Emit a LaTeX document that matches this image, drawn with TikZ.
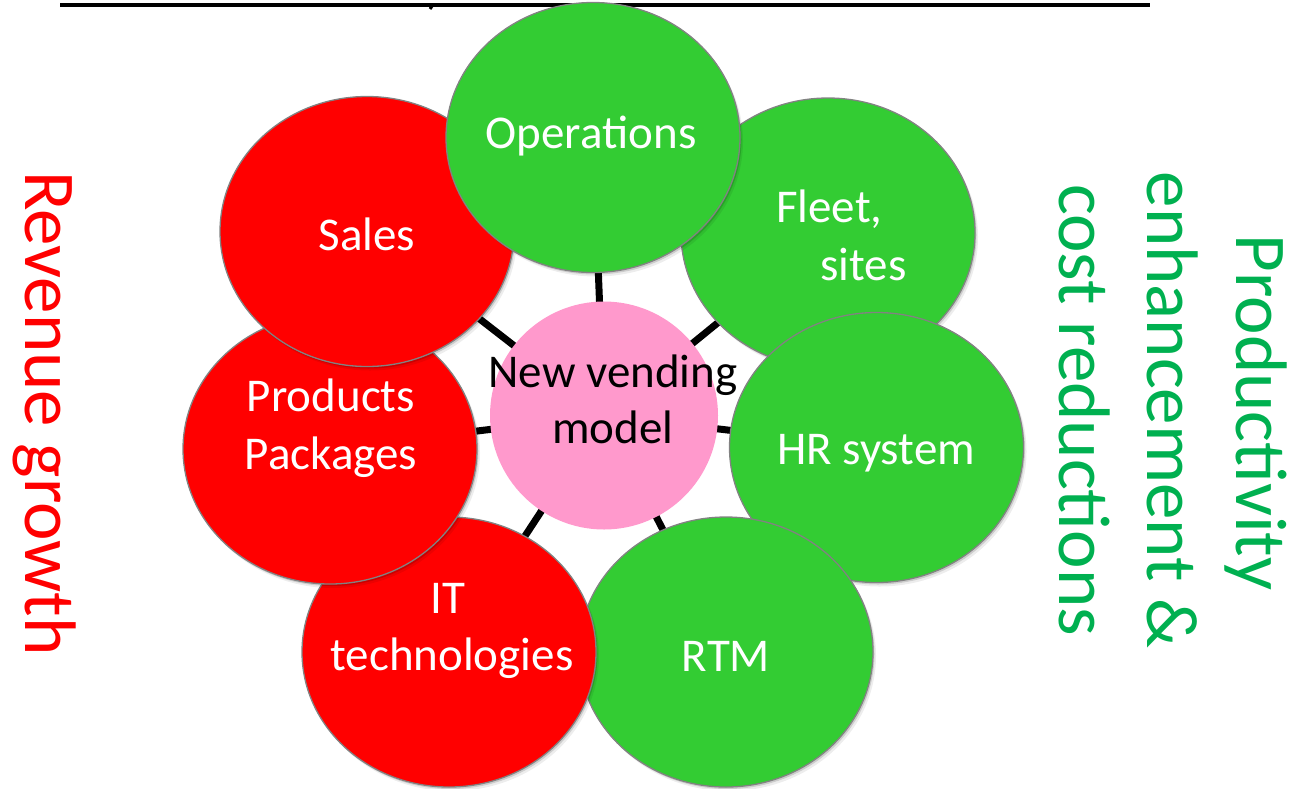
\documentclass[tikz,border=0pt]{standalone}
\usepackage{fontspec}
\setmainfont{Carlito}
\usetikzlibrary{shapes.geometric,shadows}
\definecolor{leafgreen}{RGB}{51,204,51}
\definecolor{leafred}{RGB}{255,0,0}
\definecolor{hubpink}{RGB}{255,153,204}
\definecolor{rimgray}{RGB}{130,130,130}
\definecolor{notegreen}{RGB}{0,176,80}
\pgfdeclarelayer{back}
\pgfsetlayers{back,main}

\begin{document}
\begin{tikzpicture}[x=1pt,y=-1pt,
  petal/.style={ellipse, draw=rimgray, line width=1.3pt,
    minimum width=294pt, minimum height=270pt, inner sep=0pt,
    drop shadow={shadow xshift=1.5pt, shadow yshift=-2pt, opacity=0.14, fill=black},
    drop shadow={shadow xshift=3pt, shadow yshift=-4pt, opacity=0.07, fill=black}},
  hub/.style={circle, fill=hubpink, minimum size=228pt, inner sep=0pt},
  spoke/.style={line width=7pt, black},
  lbl/.style={text=white, font=\fontsize{47}{57}\selectfont, anchor=base, inner sep=0pt},
  side/.style={font=\fontsize{73}{89}\selectfont, anchor=base, inner sep=0pt, rotate=-90}]

\useasboundingbox (0,0) rectangle (1289,788);

% heading rule and the tail of its clipped title letter
\draw[line width=4pt] (60,5) -- (1150,5);
\draw[line width=3pt] (433.5,4) -- (430,9);

% outer circles, bottom to top
\node[petal, fill=leafgreen] (fleet) at (828,233) {};
\node[petal, fill=leafgreen] (hr)    at (876.5,447.5) {};
\node[petal, fill=leafgreen] (rtm)   at (726,652) {};
\node[petal, fill=leafred]   (it)    at (449,652) {};
\node[petal, fill=leafred]   (prod)  at (330,449) {};
\node[petal, fill=leafred]   (sales) at (367,231.5) {};
\node[petal, fill=leafgreen] (ops)   at (593,137.5) {};

% centre circle
\node[hub] (hub) at (604,415.5) {};

% spokes behind everything
\begin{pgfonlayer}{back}
  \foreach \t in {ops,fleet,hr,rtm,it,prod,sales}
    \draw[spoke] (hub.center) -- (\t.center);
\end{pgfonlayer}

% circle labels
\node[lbl] (tops)   at (591,148) {Operations};
\node[lbl] (tsales) at (367,250) {Sales};
\node[lbl, anchor=base west] (tfleeta) at (776,222) {Fleet,};
\node[lbl, anchor=base west] (tfleetb) at (820,280) {sites};
\node[lbl] (thr)    at (876,464) {HR system};
\node[lbl] (trtm)   at (726,671) {RTM};
\node[lbl] (tproda) at (331,411) {Products};
\node[lbl] (tprodb) at (331,469) {Packages};
\node[lbl] (tita)   at (448,613) {IT};
\node[lbl] (titb)   at (452,670) {technologies};
\node[lbl, text=black] (thuba) at (613,387) {New vending};
\node[lbl, text=black] (thubb) at (613,443) {model};

% side captions
\node[side, text=leafred] (left) at (25,413.5) {Revenue growth};
\node[side, text=notegreen] (righta) at (1236,412.5) {Productivity};
\node[side, text=notegreen] (rightb) at (1147,410) {enhancement \&};
\node[side, text=notegreen] (rightc) at (1059,410) {cost reductions};
\end{tikzpicture}
\end{document}
